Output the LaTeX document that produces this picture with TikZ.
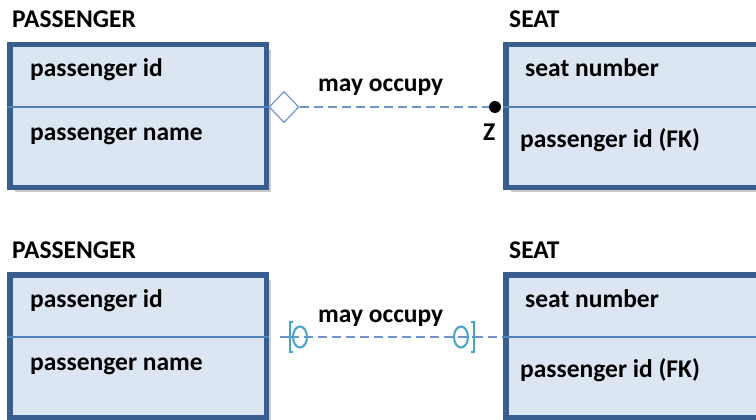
\documentclass[tikz,border=0pt]{standalone}
\usepackage{fontspec}
\setmainfont{Carlito}
\usetikzlibrary{shapes.geometric,shadows,positioning}
\definecolor{boxline}{RGB}{58,93,143}
\definecolor{boxfill}{RGB}{220,230,242}
\definecolor{divline}{RGB}{79,129,189}
\definecolor{linkline}{RGB}{110,148,206}
\definecolor{crowline}{RGB}{70,165,200}
\tikzset{
  entity/.style={draw=boxline, line width=5.5pt, fill=boxfill, rectangle,
    minimum width=256.5pt, minimum height=142.5pt, inner sep=0pt,
    drop shadow={shadow xshift=5pt, shadow yshift=-5pt, opacity=0.4}},
  divider/.style={draw=divline, line width=2.5pt},
  ename/.style={font=\bfseries\fontsize{25.5}{30}\selectfont, anchor=base west, inner sep=0pt},
  attr/.style={font=\bfseries\fontsize{25.5}{30}\selectfont, anchor=base west, inner sep=0pt},
  link/.style={draw=linkline, line width=1.5pt, dash pattern=on 9pt off 5pt},
  crow/.style={draw=crowline, line width=2pt}
}
\begin{document}
\begin{tikzpicture}[x=1pt,y=-1pt]
\useasboundingbox (0,0) rectangle (756,420);
% First diagram: optional side (diamond) and the Z dot
\node[entity] (pass1) at (138,116) {};
\node[entity] (seat1) at (634,116) {};
\draw[divider] ([yshift=9pt]pass1.west) -- ([yshift=9pt]pass1.east);
\draw[divider] ([yshift=9pt]seat1.west) -- ([yshift=9pt]seat1.east);
\node[ename] at (12,28) {PASSENGER};
\node[ename] at (509,28) {SEAT};
\node[attr] at (30,77) {passenger id};
\node[attr] at (30,140) {passenger name};
\node[attr] at (525,77) {seat number};
\node[attr] at (520,147) {passenger id (FK)};
\node[diamond, draw=linkline, line width=1.2pt, fill=white, inner sep=0pt,
  minimum width=30pt, minimum height=31pt] (dia1) at (284,107) {};
\node[circle, fill=black, inner sep=0pt, minimum size=12pt] (dot1) at (495,107) {};
\draw[link] (dia1.east) -- (dot1.west);
\node[attr] (rel1) at (318,92) {may occupy};
\node[attr] (z1) at (483,140) {Z};
% Second diagram: the same pair with bar and circle ends
\node[entity] (pass2) at (138,346) {};
\node[entity] (seat2) at (634,346) {};
\draw[divider] ([yshift=9pt]pass2.west) -- ([yshift=9pt]pass2.east);
\draw[divider] ([yshift=9pt]seat2.west) -- ([yshift=9pt]seat2.east);
\node[ename] at (12,258) {PASSENGER};
\node[ename] at (509,258) {SEAT};
\node[attr] at (30,307) {passenger id};
\node[attr] at (30,370) {passenger name};
\node[attr] at (525,307) {seat number};
\node[attr] at (520,377) {passenger id (FK)};
\coordinate (start2) at (280,337);
\coordinate (barl) at (290,337);
\coordinate (barr) at (474,337);
\coordinate (end2) at (seat2.west |- barr);
\draw[draw=linkline, line width=1.5pt] (start2) -- (barl);
\draw[link] (barl) -- (barr);
\draw[link] (barr) -- (end2);
\node[ellipse, crow, inner sep=0pt, minimum width=14pt, minimum height=21pt] (circl) at (300,337) {};
\node[ellipse, crow, inner sep=0pt, minimum width=14pt, minimum height=21pt] (circr) at (461,337) {};
\draw[crow] ([shift={(3pt,15pt)}]barl) -- ([yshift=15pt]barl) -- ([yshift=-15pt]barl) -- ([shift={(3pt,-15pt)}]barl);
\draw[crow] ([shift={(-3pt,15pt)}]barr) -- ([yshift=15pt]barr) -- ([yshift=-15pt]barr) -- ([shift={(-3pt,-15pt)}]barr);
\node[attr] (rel2) at (318,322) {may occupy};
\end{tikzpicture}
\end{document}
